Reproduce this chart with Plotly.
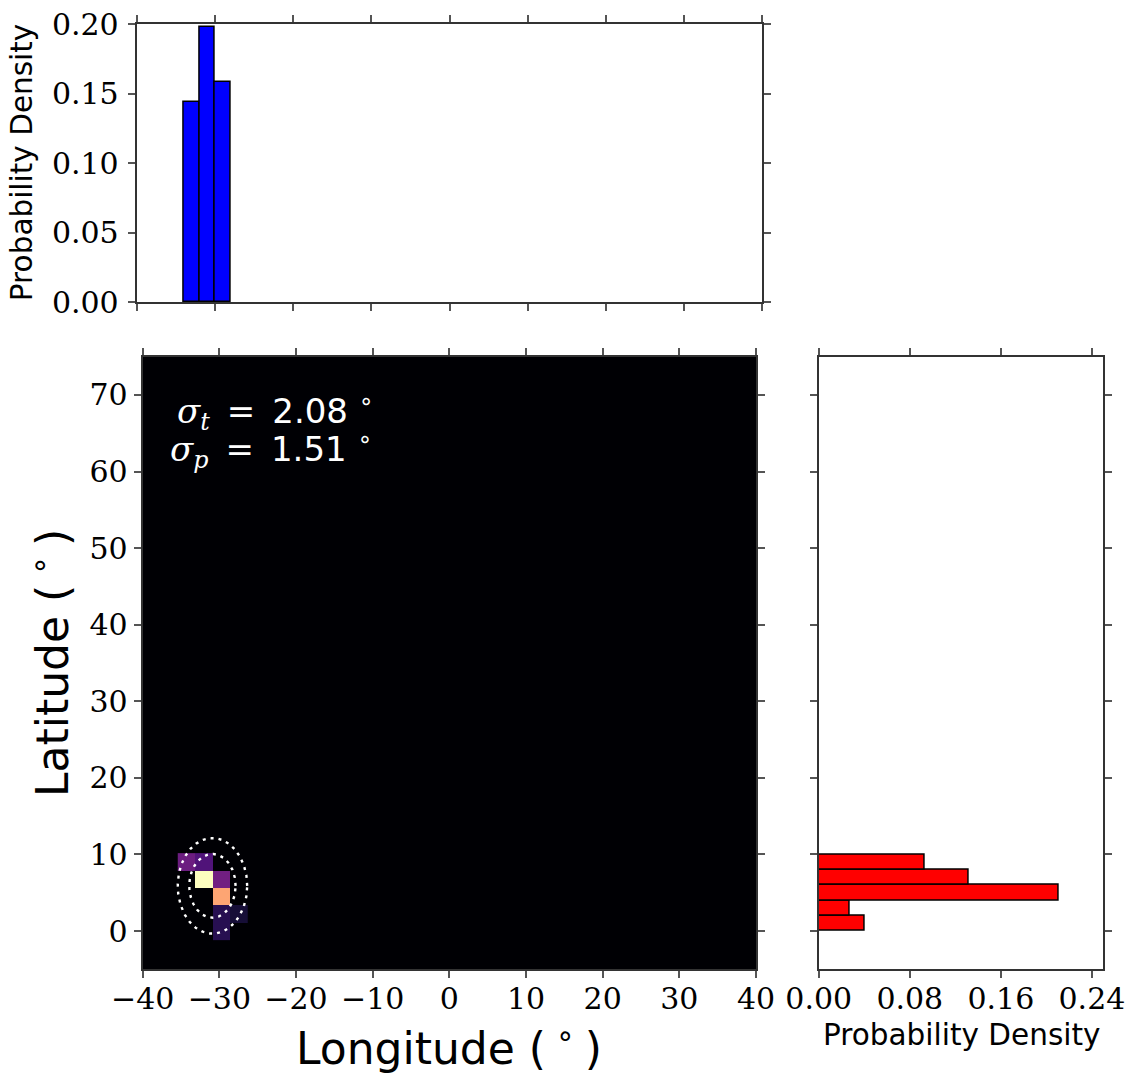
import numpy as np
import plotly.graph_objects as go

# ---- data ----------------------------------------------------------------
# marginal longitude histogram (bin edges in degrees, probability density)
lon_bin_edges = [-34, -32, -30, -28]
lon_density = [0.144, 0.198, 0.158]

# marginal latitude histogram
lat_bin_edges = [0, 2, 4, 6, 8, 10]
lat_density = [0.040, 0.027, 0.211, 0.132, 0.093]

# 2-D density map (normalised), rows from south to north
map_lon_edges = [-40 + k * 80 / 35 for k in range(2, 7)]
map_lat_edges = [-1.14 + k * 2.262 for k in range(6)]
map_density = [
    [0.00, 0.00, 0.15, 0.00],
    [0.00, 0.00, 0.15, 0.10],
    [0.00, 0.00, 0.81, 0.00],
    [0.00, 1.00, 0.33, 0.00],
    [0.32, 0.25, 0.00, 0.00],
]

# fitted centre and spreads
centre_lon, centre_lat = -30.9, 5.9
sigma_t = 2.08   # latitude spread
sigma_p = 1.51   # longitude spread
contour_levels = [2, 3]

lon_ticks = list(range(-40, 41, 10))
lat_ticks = list(range(0, 71, 10))
top_density_ticks = [0.00, 0.05, 0.10, 0.15, 0.20]
side_density_ticks = [0.00, 0.08, 0.16, 0.24]

# ---- figure ----------------------------------------------------------------
W, H = 1133, 1074
fig = go.Figure()

lon_centres = [(a + b) / 2 for a, b in zip(lon_bin_edges[:-1], lon_bin_edges[1:])]
lon_widths = [b - a for a, b in zip(lon_bin_edges[:-1], lon_bin_edges[1:])]
fig.add_trace(go.Bar(
    x=lon_centres, y=lon_density, width=lon_widths,
    marker=dict(color="#0000ff", line=dict(color="black", width=1.5)),
    xaxis="x", yaxis="y", showlegend=False, hoverinfo="skip"))

lat_centres = [(a + b) / 2 for a, b in zip(lat_bin_edges[:-1], lat_bin_edges[1:])]
lat_widths = [b - a for a, b in zip(lat_bin_edges[:-1], lat_bin_edges[1:])]
fig.add_trace(go.Bar(
    y=lat_centres, x=lat_density, width=lat_widths, orientation="h",
    marker=dict(color="#ff0000", line=dict(color="black", width=1.5)),
    xaxis="x3", yaxis="y3", showlegend=False, hoverinfo="skip"))

fig.add_trace(go.Heatmap(
    x=map_lon_edges, y=map_lat_edges, z=map_density,
    colorscale="Magma", zmin=0, zmax=1, showscale=False,
    xaxis="x2", yaxis="y2", hoverinfo="skip"))

theta = np.linspace(0, 2 * np.pi, 400)
for k in contour_levels:
    fig.add_trace(go.Scatter(
        x=centre_lon + k * sigma_p * np.cos(theta),
        y=centre_lat + k * sigma_t * np.sin(theta),
        mode="lines", line=dict(color="white", width=2.4, dash="3px,5px"),
        xaxis="x2", yaxis="y2", showlegend=False, hoverinfo="skip"))

# axes
tick_font = dict(family="DejaVu Serif", size=30, color="black")
common = dict(ticks="outside", ticklen=7, tickwidth=1.5, tickcolor="#555",
              showline=True, linewidth=2, linecolor="#333", mirror="ticks",
              showgrid=False, zeroline=False, tickfont=tick_font, automargin=False)

x_top = [136.7 / W, 762.3 / W]
x_main = [142.7 / W, 756.0 / W]
x_side = [818.7 / W, 1103.3 / W]
y_top = [1 - 302.3 / H, 1 - 24.0 / H]
y_main = [1 - 969.3 / H, 1 - 356.7 / H]

fig.update_layout(
    template="none",
    width=W, height=H, margin=dict(l=0, r=0, t=0, b=0, pad=0), autosize=False,
    paper_bgcolor="white", plot_bgcolor="white", bargap=0,
    xaxis=dict(domain=x_top, anchor="y", range=[-40, 40], tickvals=lon_ticks,
               showticklabels=False, **common),
    yaxis=dict(domain=y_top, anchor="x", range=[0, 0.2], tickvals=top_density_ticks,
               tickformat=".2f", ticklabelstandoff=3, **common),
    xaxis2=dict(domain=x_main, anchor="y2", range=[-40, 40], tickvals=lon_ticks,
                ticklabelstandoff=-5, **common),
    yaxis2=dict(domain=y_main, anchor="x2", range=[-5, 75], tickvals=lat_ticks, **common),
    xaxis3=dict(domain=x_side, anchor="y3", range=[0, 0.25], tickvals=side_density_ticks,
                tickformat=".2f", ticklabelstandoff=-5, **common),
    yaxis3=dict(domain=y_main, anchor="x3", range=[-5, 75], tickvals=lat_ticks,
                showticklabels=False, **common),
)

# black background of the density map
fig.add_shape(type="rect", xref="x2 domain", yref="y2 domain", x0=0, x1=1, y0=0, y1=1,
              fillcolor="#000004", line=dict(width=0), layer="below")

sans = "DejaVu Sans"
math_style = "font-family:'DejaVu Serif'"
fig.add_annotation(
    text=f"<span style=\"{math_style}\"><i>σ</i><sub><i>t</i></sub></span>\u2002=\u20022.08 <sup>∘</sup>",
    x=-9.6, y=67.9, xref="x2", yref="y2", xanchor="right", yanchor="middle",
    showarrow=False, font=dict(family=sans, size=34, color="white"))
fig.add_annotation(
    text=f"<span style=\"{math_style}\"><i>σ</i><sub><i>p</i></sub></span>\u2002=\u20021.51 <sup>∘</sup>",
    x=-9.85, y=62.9, xref="x2", yref="y2", xanchor="right", yanchor="middle",
    showarrow=False, font=dict(family=sans, size=34, color="white"))

# axis titles
fig.add_annotation(text="Longitude (<sup> ∘ </sup>)", x=(x_main[0] + x_main[1]) / 2,
                   y=1 - 1045 / H, xref="paper", yref="paper", showarrow=False,
                   xanchor="center", yanchor="middle", font=dict(family=sans, size=44, color="black"))
fig.add_annotation(text="Latitude (<sup> ∘ </sup>)", x=50 / W, y=(y_main[0] + y_main[1]) / 2,
                   xref="paper", yref="paper", showarrow=False, textangle=-90,
                   xanchor="center", yanchor="middle", font=dict(family=sans, size=44, color="black"))
fig.add_annotation(text="Probability Density", x=22 / W, y=(y_top[0] + y_top[1]) / 2,
                   xref="paper", yref="paper", showarrow=False, textangle=-90,
                   xanchor="center", yanchor="middle", font=dict(family=sans, size=29.5, color="black"))
fig.add_annotation(text="Probability Density", x=(x_side[0] + x_side[1]) / 2, y=1 - 1035 / H,
                   xref="paper", yref="paper", showarrow=False,
                   xanchor="center", yanchor="middle", font=dict(family=sans, size=29.5, color="black"))

fig.write_html("out.html")
